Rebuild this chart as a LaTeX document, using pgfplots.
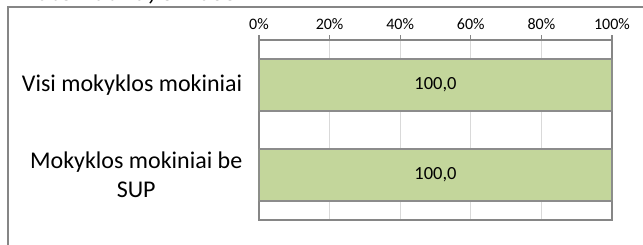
\documentclass[border=0pt]{standalone}
\usepackage{pgfplots}
\pgfplotsset{compat=1.18}
\usepackage{fontspec}
\setmainfont{Carlito}
\definecolor{axgray}{HTML}{868686}
\definecolor{gridgray}{HTML}{D9D9D9}
\definecolor{barfill}{HTML}{C3D69B}
\definecolor{bargray}{HTML}{8C8C8C}
\begin{document}
\begin{tikzpicture}
\useasboundingbox (0pt,0pt) rectangle (643pt,245pt);
\draw[axgray, line width=1.6pt] (8pt,-20pt) -- (8pt,238pt) -- (660pt,238pt);
\node[anchor=base west, inner sep=0pt, font={\fontsize{26.5}{30}\selectfont\bfseries}] at (14pt,244pt) {Matematika, 8 klasė};
\begin{axis}[
  at={(259pt,25pt)}, anchor=south west,
  scale only axis, width=353pt, height=180pt,
  xbar, bar width=52pt,
  xmin=0, xmax=100, ymin=-0.5, ymax=1.5,
  y dir=reverse,
  /pgf/number format/assume math mode=true,
  axis line style={axgray, line width=1.5pt},
  xtick={0,20,40,60,80,100},
  xticklabel={\pgfmathprintnumber{\tick}\%},
  xticklabel pos=right, xtick pos=right,
  xticklabel style={font={\fontsize{16}{18}\selectfont}, yshift=2pt},
  tick align=outside,
  major tick length=4.5pt,
  minor tick length=7pt,
  x tick style={axgray, line width=1.3pt},
  ytick={0,1},
  ytick style={draw=none},
  minor ytick={-0.5,0.5,1.5},
  minor y tick style={axgray, line width=1.3pt},
  yticklabels={Visi mokyklos mokiniai, {Mokyklos mokiniai be\\SUP}},
  yticklabel style={align=center, font={\fontsize{24}{29}\selectfont}, inner sep=0pt, xshift=-12pt},
  xmajorgrids, major grid style={gridgray, line width=1pt},
  nodes near coords={\pgfmathprintnumber[fixed, fixed zerofill, precision=1, use comma]{\pgfplotspointmeta}},
  every node near coord/.append style={anchor=center, xshift=-176.5pt, font={\fontsize{18.5}{20}\selectfont}, text=black},
]
\addplot[fill=barfill, draw=bargray, line width=1.3pt] coordinates {(100,0) (100,1)};
\end{axis}
\end{tikzpicture}
\end{document}
